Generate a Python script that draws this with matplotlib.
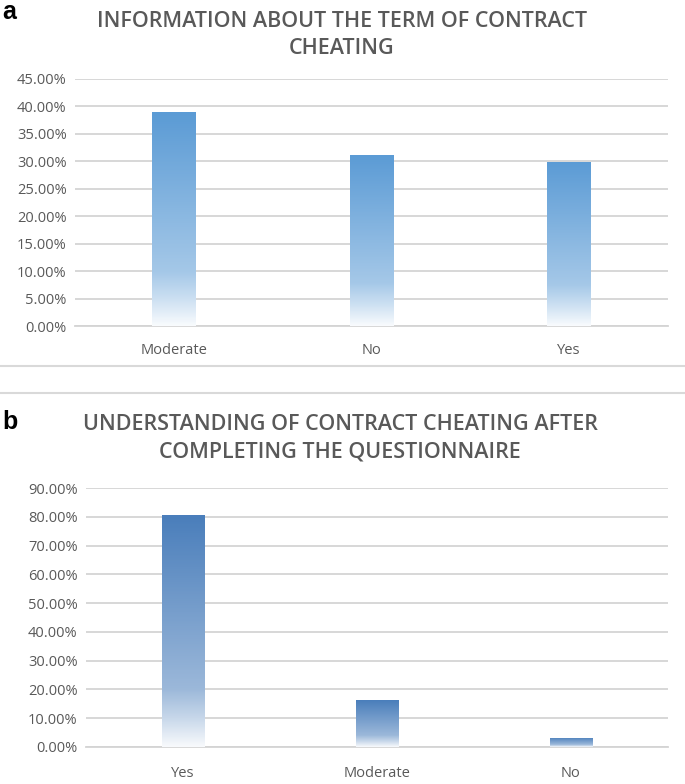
import numpy as np
import matplotlib
matplotlib.use("Agg")
import matplotlib.pyplot as plt
from matplotlib.colors import LinearSegmentedColormap
from matplotlib.ticker import PercentFormatter, MultipleLocator

# data
cats_a = ["Moderate", "No", "Yes"]
vals_a = [0.389, 0.312, 0.299]
title_a = "INFORMATION ABOUT THE TERM OF CONTRACT\nCHEATING"

cats_b = ["Yes", "Moderate", "No"]
vals_b = [0.805, 0.162, 0.033]
title_b = "UNDERSTANDING OF CONTRACT CHEATING AFTER\nCOMPLETING THE QUESTIONNAIRE"

TXT = "#595959"
GRID = "#D4D4D4"
plt.rcParams["font.family"] = ["Open Sans", "DejaVu Sans"]


def gradient_bars(ax, cats, vals, color, width):
    # bars themselves are invisible, an image clipped to each one gives the fill
    bars = ax.bar(cats, vals, width=width, color="none", edgecolor="none", zorder=3)
    cmap = LinearSegmentedColormap.from_list("w", ["#FFFFFF", color])
    t = np.linspace(0, 1, 256)
    mix = np.interp(t, [0.0, 0.12, 0.25, 1.0], [0.04, 0.3, 0.55, 1.0]).reshape(-1, 1)
    for b in bars:
        x0, y0 = b.get_x(), b.get_y()
        im = ax.imshow(mix, cmap=cmap, vmin=0, vmax=1, origin="lower", aspect="auto",
                       zorder=3, extent=(x0, x0 + b.get_width(), y0, y0 + b.get_height()))
        im.set_clip_path(b)
    return bars


def style(ax, ymax, step, xpad):
    ax.set_ylim(0, ymax)
    ax.set_xlim(-0.5, 2.5)
    ax.yaxis.set_major_locator(MultipleLocator(step))
    ax.yaxis.set_major_formatter(PercentFormatter(xmax=1, decimals=2))
    ax.grid(axis="y", color=GRID, linewidth=1.3, zorder=0)
    for s in ["top", "right", "left"]:
        ax.spines[s].set_visible(False)
    ax.spines["bottom"].set_color(GRID)
    ax.spines["bottom"].set_linewidth(1.3)
    ax.tick_params(axis="both", length=0, colors=TXT, labelsize=10.5)
    ax.tick_params(axis="x", pad=xpad)
    ax.tick_params(axis="y", pad=6)


fig = plt.figure(figsize=(6.85, 7.84), dpi=100)

ax_a = fig.add_axes([75 / 685, 1 - 326 / 784, 593 / 685, 247 / 784])
gradient_bars(ax_a, cats_a, vals_a, "#5B9BD5", 0.22)
style(ax_a, 0.45, 0.05, 12)
fig.text(342 / 685, 1 - 35 / 784, title_a, ha="center", va="center",
         fontsize=15.5, fontweight="semibold", color=TXT, linespacing=1.42)

ax_b = fig.add_axes([86 / 685, 1 - 747 / 784, 582 / 685, 259 / 784])
gradient_bars(ax_b, cats_b, vals_b, "#4A7EBB", 0.22)
style(ax_b, 0.90, 0.10, 14)
fig.text(340 / 685, 1 - 438 / 784, title_b, ha="center", va="center",
         fontsize=15.5, fontweight="semibold", color=TXT, linespacing=1.42)

# panel letters
fig.text(2 / 685, 1 - 12 / 784, "a", fontsize=18, fontweight="bold",
         family="Liberation Sans", va="center", ha="left")
fig.text(2 / 685, 1 - 422 / 784, "b", fontsize=18, fontweight="bold",
         family="Liberation Sans", va="center", ha="left")

# separator lines between the two charts
fig.add_artist(plt.Line2D([0, 1], [1 - 366 / 784] * 2, color="#D9D9D9", linewidth=1.5))
fig.add_artist(plt.Line2D([0, 1], [1 - 393 / 784] * 2, color="#D9D9D9", linewidth=1.5))

fig.savefig("out.png", dpi=100, facecolor="white")
